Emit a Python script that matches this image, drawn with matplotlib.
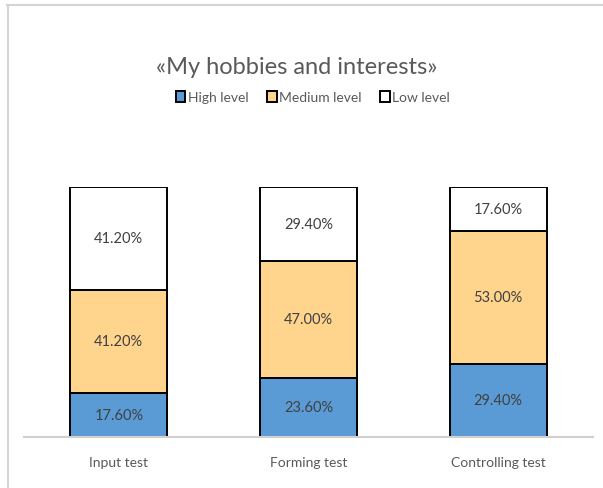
import numpy as np
import matplotlib.pyplot as plt
from matplotlib.lines import Line2D

# data
categories = ['Input test', 'Forming test', 'Controlling test']
high = [17.6, 23.6, 29.4]
medium = [41.2, 47.0, 53.0]
low = [41.2, 29.4, 17.6]

plt.rcParams['font.family'] = ['Lato', 'DejaVu Sans']

W, H = 603, 489
fig = plt.figure(figsize=(W/100, H/100), dpi=100)

# light frame (only top and left visible in the crop)
fig.lines.append(Line2D([7/W, 1], [1 - 5.5/H, 1 - 5.5/H], transform=fig.transFigure,
                        color='#d4d4d4', linewidth=1.5))
fig.lines.append(Line2D([7.5/W, 7.5/W], [0, 1 - 5.5/H], transform=fig.transFigure,
                        color='#d4d4d4', linewidth=1.5))

ax = fig.add_axes([24/W, 51/H, 569/W, 250/H])

x = np.arange(len(categories))
width = 0.51
c_high = '#5b9bd5'
c_med = '#ffd58e'
c_low = '#ffffff'

b1 = ax.bar(x, high, width, color=c_high, edgecolor='black', linewidth=1.4, label='High level')
b2 = ax.bar(x, medium, width, bottom=high, color=c_med, edgecolor='black', linewidth=1.4, label='Medium level')
bottom2 = np.array(high) + np.array(medium)
b3 = ax.bar(x, low, width, bottom=bottom2, color=c_low, edgecolor='black', linewidth=1.4, label='Low level')

for bars, vals, bots in [(b1, high, [0]*3), (b2, medium, high), (b3, low, bottom2)]:
    for i, v in enumerate(vals):
        ax.text(x[i], bots[i] + v/2, '%.2f%%' % v, ha='center', va='center',
                fontsize=10.5, color='#404040')

ax.set_xlim(-0.5, 2.5)
ax.set_ylim(0, 100)
ax.set_yticks([])
ax.set_xticks(x)
ax.set_xticklabels(categories, fontsize=10, color='#595959')
ax.tick_params(axis='x', length=0, pad=14)
for s in ['top', 'right', 'left']:
    ax.spines[s].set_visible(False)
ax.spines['bottom'].set_color('#d0d0d0')
ax.spines['bottom'].set_linewidth(1.5)

fig.text(297/W, 1 - 68/H, '«My hobbies and interests»', ha='center', va='center',
         fontsize=17, color='#595959')

leg = fig.legend(handles=[b1, b2, b3], loc='center', bbox_to_anchor=(313/W, 1 - 98/H),
                 ncol=3, frameon=False, fontsize=10, handlelength=0.7, handleheight=0.9,
                 handletextpad=0.2, columnspacing=1.3)
for t in leg.get_texts():
    t.set_color('#595959')

fig.savefig('out.png', dpi=100)
